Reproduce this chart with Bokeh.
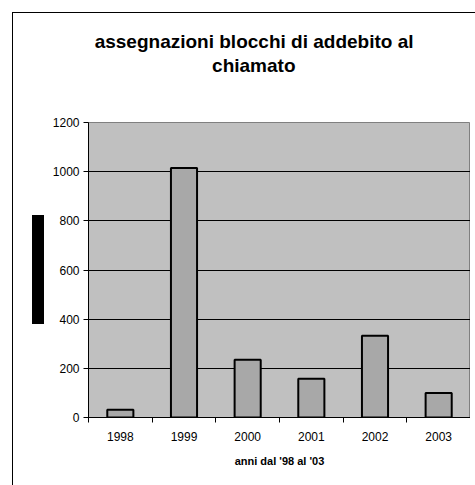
from bokeh.plotting import figure
from bokeh.models import FixedTicker, Range1d, Title, InlineStyleSheet
from bokeh.embed import file_html
from bokeh.resources import INLINE

years = ["1998", "1999", "2000", "2001", "2002", "2003"]
values = [32, 1015, 235, 158, 333, 100]
y_ticks = [0, 200, 400, 600, 800, 1000, 1200]
title_lines = ["assegnazioni blocchi di addebito al", "chiamato"]
x_title = "anni dal '98 al '03"

FONT = "Liberation Sans"

p = figure(width=470, height=482, x_range=Range1d(0, len(years)), y_range=Range1d(0, 1200),
           output_backend="svg", toolbar_location=None,
           min_border_left=88, min_border_right=0, min_border_top=122, min_border_bottom=65)
p.title = None
p.background_fill_color = "#c0c0c0"
p.border_fill_color = "white"
p.outline_line_color = "#808080"

xs = [i + 0.5 for i in range(len(years))]
p.vbar(x=xs, top=values, width=0.41, fill_color="#a8a8a8", line_color="black", line_width=2)

# x axis: labels at category centres, ticks at category boundaries
p.xaxis.ticker = FixedTicker(ticks=xs, minor_ticks=list(range(len(years) + 1)))
p.xaxis.major_label_overrides = {x: y for x, y in zip(xs, years)}
p.xaxis.major_tick_out = 0
p.xaxis.major_tick_in = 0
p.xaxis.minor_tick_out = 5
p.xaxis.minor_tick_in = 0
p.xaxis.minor_tick_line_color = "black"
p.xaxis.axis_line_color = "black"
p.xaxis.major_label_text_font = FONT
p.xaxis.major_label_text_font_size = "12px"
p.xaxis.major_label_text_color = "black"
p.xaxis.major_label_standoff = 9
p.xaxis.axis_label = x_title
p.xaxis.axis_label_text_font = FONT
p.xaxis.axis_label_text_font_size = "11px"
p.xaxis.axis_label_text_font_style = "bold"
p.xaxis.axis_label_text_color = "black"
p.xaxis.axis_label_standoff = 11
p.xgrid.visible = False

# y axis
p.yaxis.ticker = FixedTicker(ticks=y_ticks)
p.yaxis.major_tick_out = 5
p.yaxis.major_tick_in = 0
p.yaxis.minor_tick_line_color = None
p.yaxis.major_tick_line_color = "black"
p.yaxis.axis_line_color = "black"
p.yaxis.major_label_text_font = FONT
p.yaxis.major_label_text_font_size = "12px"
p.yaxis.major_label_text_color = "black"
p.yaxis.major_label_standoff = 4
p.ygrid.ticker = FixedTicker(ticks=y_ticks)
p.ygrid.grid_line_color = "black"
p.ygrid.grid_line_width = 1

# blank spacer between the frame and the title, then the two title lines
p.add_layout(Title(text=" ", standoff=24, text_font=FONT, text_font_size="18px",
                   text_color="white"), "above")
p.add_layout(Title(text=title_lines[1], align="right", offset=175, standoff=2,
                   text_font=FONT, text_font_size="19px", text_font_style="bold",
                   text_color="black"), "above")
p.add_layout(Title(text=title_lines[0], align="right", offset=57, standoff=0,
                   text_font=FONT, text_font_size="19px", text_font_style="bold",
                   text_color="black"), "above")

# chart-area border and the (blacked-out) y-axis title block
css = """
:host::before { content: ""; position: absolute; left: 12px; top: 12px; width: 500px; height: 500px;
  border-left: 1px solid black; border-top: 1px solid black; pointer-events: none; z-index: 5; }
:host::after { content: ""; position: absolute; left: 32px; top: 215px; width: 12px; height: 109px;
  background: black; pointer-events: none; z-index: 5; }
"""
p.stylesheets = [InlineStyleSheet(css=css)]

open("out.html", "w").write(file_html(p, INLINE))
